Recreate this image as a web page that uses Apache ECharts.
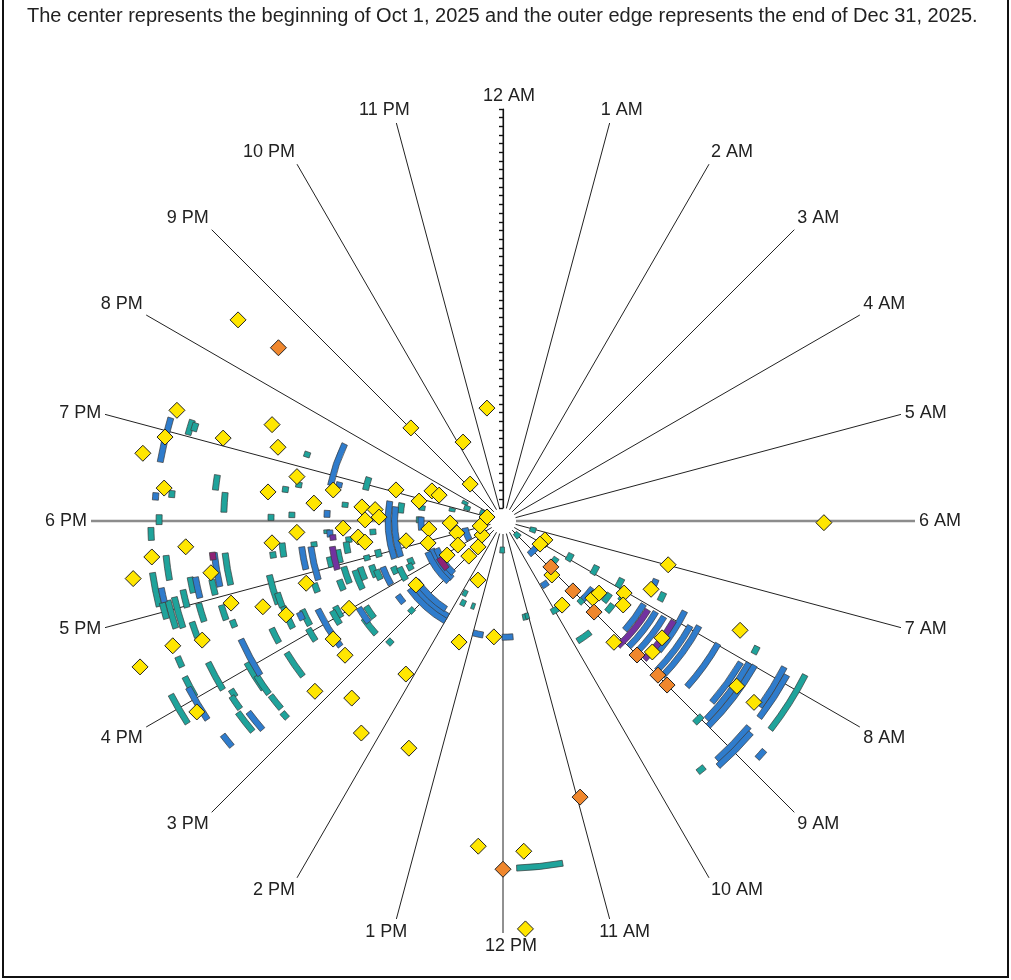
<!DOCTYPE html>
<html><head><meta charset="utf-8">
<script src="https://cdn.jsdelivr.net/npm/echarts@6/dist/echarts.min.js"></script>
<style>html,body{margin:0;padding:0;background:#fff}#c{width:1011px;height:980px}</style>
</head><body><div id="c"></div>
<script>
const titleText = 'The center represents the beginning of Oct 1, 2025 and the outer edge represents the end of Dec 31, 2025.';
const hourLabels = ['12 AM','1 AM','2 AM','3 AM','4 AM','5 AM','6 AM','7 AM','8 AM','9 AM','10 AM','11 AM',
  '12 PM','1 PM','2 PM','3 PM','4 PM','5 PM','6 PM','7 PM','8 PM','9 PM','10 PM','11 PM'];
const totalDays = 92;            // Oct 1 .. Dec 31
const dayTickStep = 2;
const greyHours = [6, 18];

// [day offset from Oct 1, start hour, end hour]
const arcsTeal = [
[75.2,7.8,8.53],[62.4,7.75,7.86],[61.2,8.96,9.1],[70.3,9.38,9.48],[29.6,9.46,9.88],[14.5,7.7,8.1],[21.0,7.7,8.05],
[26.8,8.28,8.58],[28.8,8.48,8.74],[20.8,9.83,10.13],[22.8,8.85,9.15],[27.5,7.72,8.0],[29.7,8.02,8.28],[4.2,6.8,7.4],
[19.7,11.05,11.23],[37.6,7.6,7.8],[12.0,8.3,8.6],[1.6,8.5,9.5],
[77.1,11.34,11.85],[19.6,10.98,11.12],[17.8,13.22,13.36],[3.7,11.8,12.4],[18.0,13.63,13.83],[15.8,13.75,13.95],
[34.2,15.54,15.87],[36.2,15.22,15.67],[40.4,15.95,16.2],[35.2,14.8,14.94],[26.5,14.96,15.12],[20.7,18.3,18.67],
[16.3,17.92,18.19],[9.0,18.7,18.95],[6.7,19.55,19.85],[32.8,17.47,17.61],[27.1,17.6,17.76],[35.7,17.04,17.34],
[35.2,16.53,16.93],[31.6,16.47,16.8],[29.0,16.42,16.76],[28.3,16.3,16.59],[24.4,16.25,16.49],[23.2,15.92,16.39],
[20.2,16.28,16.55],[26.7,16.92,17.14],[29.5,16.92,17.06],[44.8,18.62,18.72],[37.7,17.73,17.81],[37.9,17.0,17.22],
[33.0,16.28,16.77],[52.3,16.65,17.13],[51.6,16.58,16.82],[42.8,16.6,16.78],[37.1,16.44,16.68],[41.5,15.85,16.15],
[48.3,15.83,16.07],[55.4,15.48,15.91],[55.8,16.1,16.34],[63.5,16.56,16.66],[72.4,15.93,16.29],[64.5,15.66,16.07],
[64.1,15.57,15.86],[64.0,15.32,15.54],[64.4,15.17,15.27],[70.8,15.78,15.88],[71.5,15.63,15.81],[72.4,15.33,15.61],
[78.3,16.37,16.49],[78.7,16.02,16.26],[83.4,15.82,16.16],[78.7,17.07,17.44],[76.4,16.79,17.11],[74.8,16.77,17.13],
[72.5,16.98,17.19],[70.3,17.13,17.32],[69.7,16.76,16.99],[72.4,16.61,16.8],[65.5,17.04,17.24],[61.5,17.12,17.56],
[64.8,16.69,16.89],[51.4,16.2,16.58],[47.6,16.11,16.41],[75.1,17.33,17.61],[15.9,18.5,18.72],[5.8,19.1,19.55],
[2.0,19.0,19.9],[20.9,16.13,16.37],[77.8,16.92,17.1],
[72.3,19.02,19.2],[71.3,19.08,19.18],[63.7,18.41,18.61],[61.4,18.12,18.39],[76.3,17.96,18.07],[78.2,17.79,17.93],
[73.6,18.27,18.35],[44.7,19.2,19.3],[47.7,18.5,18.6],[45.7,18.06,18.16],[50.5,18.01,18.11],[33.6,18.33,18.45],
[29.5,18.85,19.2],[48.2,17.38,17.62],[50.6,17.39,17.49],[33.5,17.22,17.49],[40.9,17.48,17.58]
];
const arcsBlue = [
[43.8,7.76,8.65],[34.7,8.04,8.79],[38.0,8.05,9.0],[40.2,8.05,8.95],[48.3,7.88,8.95],[46.5,7.95,8.95],[54.1,7.98,8.8],
[60.8,8.05,8.73],[63.9,7.99,9.0],[62.5,8.0,8.95],[70.1,7.83,8.39],[71.5,7.9,8.5],[70.9,8.66,9.21],[72.2,8.7,9.25],
[77.2,8.75,8.87],[34.8,7.39,7.59],[22.8,8.46,8.97],[6.8,8.27,9.47],[14.5,9.6,9.95],
[23.7,12.66,13.0],[23.8,11.67,12.03],
[23.5,16.73,18.66],[22.0,16.72,18.5],[14.7,14.77,16.57],[15.8,14.8,16.5],[13.6,14.9,16.5],[22.4,14.0,15.67],
[23.6,14.0,15.6],[21.2,14.2,15.7],[26.7,15.37,15.65],[35.8,15.53,15.93],[26.7,16.03,16.6],[35.7,18.77,18.89],
[41.7,16.82,17.49],[48.5,16.25,16.39],[44.3,15.49,16.3],[63.3,15.84,16.38],[70.4,15.27,15.54],[78.3,15.35,15.51],
[79.1,15.74,16.14],[77.3,17.1,17.26],[69.1,17.05,17.31],[15.9,17.58,18.18],[5.9,16.08,17.3],
[77.2,18.65,19.15],[77.3,18.23,18.31],[37.6,18.78,19.73],[37.6,18.08,18.23],[64.0,17.13,17.58],[43.8,17.08,17.51],
[37.0,17.65,17.8]
];
const arcsPurple = [[36.2,8.10,9.16],[42.6,8.02,8.96],[36.4,17.57,17.69],[36.8,16.91,17.43]];
const arcsMagenta = [[14.0,15.3,16.0],[64.4,17.49,17.59]];

// [day offset, hour]
const diamondsYellow = [
[71.0,6.02],[36.4,6.99],[57.2,7.65],[63.0,8.35],[68.4,8.39],[7.6,7.62],[7.06,8.13],[13.8,9.19],[20.7,9.66],[24.3,8.71],
[24.7,8.46],[29.5,8.05],[30.8,8.33],[34.6,7.65],[34.9,9.17],[42.5,8.42],[42.8,8.75],[72.2,12.29],[73.3,11.76],[91.2,11.79],
[23.8,12.3],[26.7,13.33],[11.8,13.53],[38.8,14.16],[53.7,13.5],[55.8,14.25],[50.7,14.7],[55.5,15.19],[44.8,15.31],
[44.7,15.68],[80.2,15.87],[87.2,16.54],[71.6,16.56],[78.4,17.61],[70.4,17.69],[83.3,17.41],[65.4,17.33],[62.5,16.88],
[55.8,16.69],[51.5,16.44],[44.6,16.83],[50.5,17.64],[37.8,16.03],[78.4,16.62],[76.4,19.25],[77.3,18.93],[81.5,18.71],
[64.3,19.1],[54.7,19.51],[51.6,19.21],[75.5,18.37],[51.6,18.47],[45.6,18.81],[40.8,18.36],[36.8,18.69],[29.7,18.38],
[28.8,18.03],[33.9,17.83],[30.6,17.58],[29.2,17.42],[44.6,17.79],[73.7,20.48],[27.2,21.02],[17.4,22.21],[23.3,23.46],
[8.4,21.22],[22.7,19.08],[16.9,18.89],[14.8,19.53],[12.9,19.47],[26.6,18.34],[25.6,18.12],[19.8,17.23],[14.2,17.59],
[15.0,16.91],[9.2,17.85],[8.0,17.03],[8.8,16.13],[8.3,14.95],[5.3,14.93],[2.8,15.75],[2.4,17.18],[0.8,18.93],
[12.1,15.91],[21.9,15.58]
];
const diamondsOrange = [[12.3,8.92],[19.8,9.0],[26.7,9.0],[40.7,9.0],[47.4,8.99],[50.5,9.0],[63.1,10.96],[77.3,12.0],[62.4,20.51]];

const FONT = 'Liberation Sans, Arial, sans-serif';
const CENTER = [503, 521];
const RADIUS = [13, 412];
const LABEL_SIZE = 18;

// horizontal nudges of a few hour labels near the vertical axis (style only)
const labelNudge = { 0: 12, 1: 22, 11: 28, 12: 16, 13: -18, 23: -22 };
const rich = { n: { fontSize: LABEL_SIZE, color: '#222', fontFamily: FONT } };
Object.keys(labelNudge).forEach(function (k) {
  const p = labelNudge[k];
  rich['h' + k] = { fontSize: LABEL_SIZE, color: '#222', fontFamily: FONT,
    padding: p > 0 ? [0, 0, 0, p] : [0, -p, 0, 0] };
});

function arcSeries(data, color) {
  return {
    type: 'custom', coordinateSystem: 'polar', polarIndex: 0,
    dimensions: ['day', 'start', 'end'],
    encode: { radius: 0, angle: [1, 2] },
    data: data,
    z: 3,
    renderItem: function (params, api) {
      const cs = params.coordSys;
      const d = api.value(0);
      const p0 = api.coord([d, api.value(1)]);
      const p1 = api.coord([d, api.value(2)]);
      const rad = Math.hypot(p0[0] - cs.cx, p0[1] - cs.cy);
      const a0 = Math.atan2(p0[1] - cs.cy, p0[0] - cs.cx);
      let a1 = Math.atan2(p1[1] - cs.cy, p1[0] - cs.cx);
      while (a1 < a0) a1 += Math.PI * 2;
      return {
        type: 'sector',
        shape: { cx: cs.cx, cy: cs.cy, r0: rad - 3, r: rad + 3, startAngle: a0, endAngle: a1, clockwise: true },
        style: { fill: color, stroke: '#3a3a3a', lineWidth: 0.7 }
      };
    }
  };
}

const splitColors = [];
for (let h = 0; h <= 24; h++) splitColors.push(greyHours.indexOf(h % 24) >= 0 ? 'rgba(0,0,0,0)' : '#222');

const chart = echarts.init(document.getElementById('c'));
chart.setOption({
  animation: false,
  backgroundColor: '#fff',
  title: { text: titleText, left: 22, top: 1, textStyle: { fontSize: 20, fontWeight: 'normal', color: '#222', fontFamily: FONT } },
  polar: [{ center: CENTER, radius: RADIUS }, { center: CENTER, radius: RADIUS }],
  angleAxis: [{
    polarIndex: 0, type: 'value', min: 0, max: 24, interval: 1, startAngle: 90, clockwise: true,
    axisLine: { show: false }, axisTick: { show: false },
    splitLine: { show: true, lineStyle: { color: splitColors, width: 1 } },
    axisLabel: { margin: 4, color: '#222', fontSize: LABEL_SIZE, fontFamily: FONT, rich: rich,
      formatter: function (v) {
        if (v >= 24) return '';
        const key = labelNudge[v] !== undefined ? 'h' + v : 'n';
        return '{' + key + '|' + hourLabels[v] + '}';
      } }
  }, {
    polarIndex: 1, type: 'value', min: 0, max: 24, startAngle: 90, clockwise: true, show: false
  }],
  radiusAxis: [{
    polarIndex: 0, type: 'value', min: 0, max: totalDays, interval: dayTickStep,
    axisLine: { show: true, lineStyle: { color: '#111', width: 1.2 } },
    axisTick: { show: true, length: 4, lineStyle: { color: '#111', width: 1.2 } },
    axisLabel: { show: false }, splitLine: { show: false }
  }, {
    polarIndex: 1, type: 'value', min: 0, max: totalDays, interval: dayTickStep,
    axisLine: { show: false },
    axisTick: { show: true, inside: true, length: 4, lineStyle: { color: '#111', width: 1.2 } },
    axisLabel: { show: false }, splitLine: { show: false }
  }],
  graphic: [{
    type: 'polyline', silent: true,
    shape: { points: [[3, 0], [3, 977], [1008, 977], [1008, 0]] },
    style: { stroke: '#111', lineWidth: 2, fill: null }
  }],
  series: [
    ...greyHours.map(h => ({
      type: 'line', coordinateSystem: 'polar', polarIndex: 0, symbol: 'none', z: 2,
      data: [[0, h], [totalDays, h]], lineStyle: { color: '#8c8c8c', width: 2.5 }, silent: true
    })),
    arcSeries(arcsTeal, '#1fa39b'),
    arcSeries(arcsBlue, '#2f7ccc'),
    arcSeries(arcsPurple, '#7232a0'),
    arcSeries(arcsMagenta, '#8e2276'),
    { type: 'scatter', coordinateSystem: 'polar', polarIndex: 0, symbol: 'diamond', symbolSize: 16, z: 5,
      data: diamondsYellow, itemStyle: { color: '#ffe600', borderColor: '#222', borderWidth: 1, opacity: 1 } },
    { type: 'scatter', coordinateSystem: 'polar', polarIndex: 0, symbol: 'diamond', symbolSize: 16, z: 5,
      data: diamondsOrange, itemStyle: { color: '#f0872d', borderColor: '#222', borderWidth: 1, opacity: 1 } }
  ]
});
</script></body></html>
